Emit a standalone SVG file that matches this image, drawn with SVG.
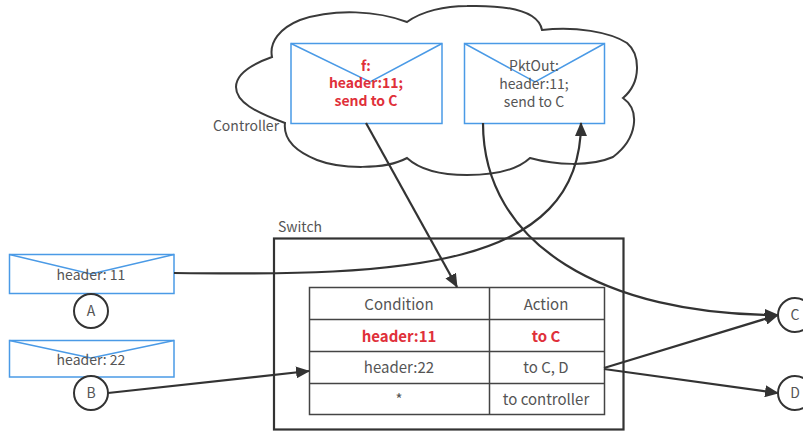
<svg xmlns="http://www.w3.org/2000/svg" width="803" height="432" viewBox="0 0 803 432">
<style>
text{font-family:"Noto Sans CJK SC","Noto Sans",sans-serif;font-size:15px;fill:#555;text-anchor:middle}
.s{font-size:14px}
.r{fill:#e0303a;font-weight:700}
.env{fill:none;stroke:#4a9ae6;stroke-width:1.5}
.ln{fill:none;stroke:#333;stroke-width:2.2}
.c{fill:#fff;stroke:#333;stroke-width:2}
.t{fill:none;stroke:#444;stroke-width:1.5}
</style>
<defs><marker id="a" markerUnits="userSpaceOnUse" markerWidth="14" markerHeight="12" refX="13" refY="6" orient="auto"><path d="M0 0L14 6L0 12Z" fill="#333"/></marker></defs>
<g id="controller"><path d="M272 57C269 42 280 28 300 20C335 8 378 11 407 22C422 11 445 6 467 6C505 5 538 10 542 30C575 26 610 32 627 43C640 54 642 82 623 98C640 110 638 138 613 157C590 167 555 165 530 158C515 172 490 175 467 175C440 175 420 170 407 158C385 170 340 169 317 160C297 152 283 140 285 123C255 112 236 102 236 87C236 72 255 63 272 57Z" fill="#fff" stroke="#3a3a3a" stroke-width="2"/><text class="s" x="246" y="131">Controller</text></g>
<g id="msg-f"><rect class="env" x="291" y="43.500" width="151" height="80"/><path class="env" d="M291 43.500L370 82L442 43.500"/><text class="r s" x="366" y="71">f:</text><text class="r s" x="366" y="88">header:11;</text><text class="r s" x="366" y="106">send to C</text></g>
<g id="msg-pktout"><rect class="env" x="464.500" y="43.500" width="140" height="80"/><path class="env" d="M464.500 43.500L535 82L604.500 43.500"/><text class="s" x="534" y="71">PktOut:</text><text class="s" x="534" y="89">header:11;</text><text class="s" x="534" y="107">send to C</text></g>
<g id="switch"><rect x="274" y="238.500" width="349.500" height="191" fill="none" stroke="#333" stroke-width="2.200"/><text class="s" x="300" y="232">Switch</text></g>
<g id="table"><rect class="t" x="309.500" y="287.500" width="295" height="127"/><path class="t" d="M309 319.500H605M309 351.500H605M309 383.500H605M489.500 287V415"/>
<text x="399" y="310">Condition</text><text x="546" y="310">Action</text>
<text class="r" x="399" y="342">header:11</text><text class="r" x="546" y="342">to C</text>
<text x="399" y="373">header:22</text><text x="546" y="373">to C, D</text>
<text x="399" y="405">*</text><text x="546" y="405">to controller</text></g>
<g id="msg-a"><rect class="env" x="9.500" y="254.500" width="164.500" height="39"/><path class="env" d="M9.500 254.500L91 274L174 254.500"/><text class="s" x="91" y="280">header: 11</text></g>
<g id="msg-b"><rect class="env" x="9.500" y="340.500" width="164.500" height="36.500"/><path class="env" d="M9.500 340.500L91 358L174 340.500"/><text class="s" x="91" y="365">header: 22</text></g>
<g id="connectors">
<path class="ln" d="M366 123L457 287" marker-end="url(#a)"/>
<path class="ln" d="M174 273C400 276 581 270 581 123" marker-end="url(#a)"/>
<path class="ln" d="M483 123C483 245 605 315 778 315" marker-end="url(#a)"/>
<path class="ln" d="M108 393L309 371" marker-end="url(#a)"/>
<path class="ln" d="M604 368L778 315" marker-end="url(#a)"/>
<path class="ln" d="M604 369L778 393" marker-end="url(#a)"/>
</g>
<g id="node-a"><circle class="c" cx="91" cy="311" r="17"/><text class="s" x="91" y="316">A</text></g>
<g id="node-b"><circle class="c" cx="91" cy="393" r="17"/><text class="s" x="91" y="398">B</text></g>
<g id="node-c"><circle class="c" cx="795" cy="315" r="17"/><text class="s" x="795" y="320">C</text></g>
<g id="node-d"><circle class="c" cx="795" cy="393" r="17"/><text class="s" x="795" y="398">D</text></g>
</svg>
